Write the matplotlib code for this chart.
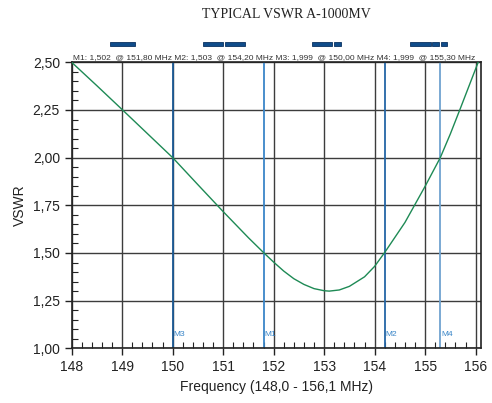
import numpy as np
import matplotlib
matplotlib.use('Agg')
import matplotlib.pyplot as plt
from matplotlib.ticker import MultipleLocator, FuncFormatter
from matplotlib.transforms import blended_transform_factory

# VSWR curve
freq = [148.0, 148.5, 149.0, 149.5, 150.0, 150.5, 151.0, 151.5, 151.8, 152.0,
        152.2, 152.4, 152.6, 152.8, 153.0, 153.1, 153.3, 153.5, 153.8, 154.0,
        154.2, 154.6, 155.0, 155.3, 155.5, 155.7, 156.05]
vswr = [2.50, 2.377, 2.252, 2.126, 2.00, 1.858, 1.717, 1.58, 1.502, 1.452,
        1.405, 1.365, 1.335, 1.313, 1.302, 1.30, 1.306, 1.325, 1.375, 1.43,
        1.503, 1.66, 1.85, 2.00, 2.125, 2.26, 2.50]

# markers
mk_names = ['M3', 'M1', 'M2', 'M4']
mk_freq = [150.0, 151.8, 154.2, 155.3]
mk_colors = ['#1b5a96', '#3a86c8', '#2466a6', '#6fa3d0']

# channel bars above the plot
bar_start = [148.75, 150.60, 151.04, 152.76, 153.20, 154.71, 155.14, 155.31]
bar_end = [149.26, 150.99, 151.44, 153.16, 153.33, 155.11, 155.28, 155.44]

header = ('M1: 1,502  @ 151,80 MHz M2: 1,503  @ 154,20 MHz '
          'M3: 1,999  @ 150,00 MHz M4: 1,999  @ 155,30 MHz')

plt.rcParams['font.family'] = ['Liberation Sans', 'DejaVu Sans']

fig = plt.figure(figsize=(4.92, 4.03), dpi=100)
ax = fig.add_axes([0.1457, 0.1357, 0.8313, 0.7097])

ax.set_xlim(148.0, 156.1)
ax.set_ylim(1.0, 2.5)

# grid
ax.xaxis.set_major_locator(MultipleLocator(1))
ax.xaxis.set_minor_locator(MultipleLocator(0.2))
ax.yaxis.set_major_locator(MultipleLocator(0.25))
ax.yaxis.set_minor_locator(MultipleLocator(0.05))
ax.grid(True, which='major', color='#3c3c3c', linewidth=1.0)
ax.set_axisbelow(True)

ax.tick_params(which='major', direction='out', length=5, width=1,
               color='#222222', labelsize=10, labelcolor='#222222')
ax.tick_params(which='minor', direction='in', length=4, width=0.8,
               color='#222222')
ax.yaxis.set_major_formatter(FuncFormatter(lambda v, p: ('%.2f' % v).replace('.', ',')))
for s in ax.spines.values():
    s.set_color('#222222')
    s.set_linewidth(1.2)

# markers
for name, f, c in zip(mk_names, mk_freq, mk_colors):
    ax.axvline(f, color=c, linewidth=1.3, zorder=2)
    ax.text(f + 0.02, 1.055, name, color='#3a86c8', fontsize=6,
            ha='left', va='bottom')

ax.plot(freq, vswr, color='#1e8a55', linewidth=1.0, zorder=3)

trans = blended_transform_factory(ax.transData, ax.transAxes)
for a, b in zip(bar_start, bar_end):
    ax.add_patch(plt.Rectangle((a, 1.058), b - a, 0.014, transform=trans,
                               facecolor='#0f4c8a', edgecolor='#0a3260',
                               linewidth=0.6, clip_on=False))

ax.text(0.003, 1.004, header, transform=ax.transAxes, fontsize=6,
        color='#333333', ha='left', va='bottom')

fig.text(286 / 492, 1 - 14 / 403, 'TYPICAL VSWR A-1000MV', family='Liberation Serif',
         fontsize=10, ha='center', va='center', color='#222222')

ax.set_xlabel('Frequency (148,0 - 156,1 MHz)', fontsize=10, color='#222222')
ax.set_ylabel('VSWR', fontsize=10, color='#222222')

fig.savefig('out.png', dpi=100)
